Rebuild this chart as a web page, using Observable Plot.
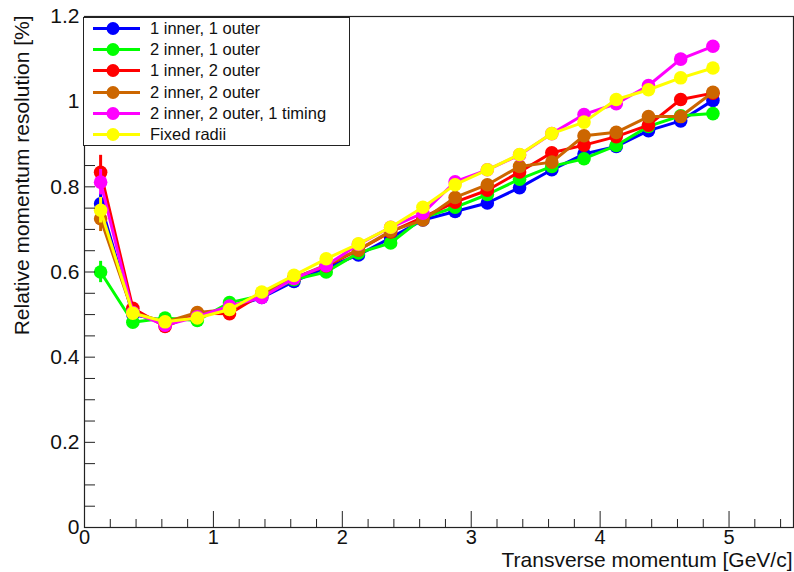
<!DOCTYPE html>
<html><head><meta charset="utf-8">
<script src="https://cdn.jsdelivr.net/npm/d3@7"></script>
<script src="https://cdn.jsdelivr.net/npm/@observablehq/plot@0.6"></script>
<style>
body{margin:0;background:#fff;}
#wrap{position:relative;width:794px;height:572px;font-family:"Liberation Sans",Arial,Helvetica,sans-serif;}
#legend{position:absolute;left:83px;top:17px;width:267px;height:129px;border:1px solid #222;background:#fff;box-sizing:border-box;}
.row{height:21.2px;display:flex;align-items:center;font-size:16.5px;color:#111;white-space:nowrap;}
.row svg{flex:none;margin-right:1px;}
</style></head><body><div id="wrap"><div id="legend"></div></div>
<script>
// ---- data ----
const pT = [0.125,0.375,0.625,0.875,1.125,1.375,1.625,1.875,2.125,2.375,2.625,2.875,3.125,3.375,3.625,3.875,4.125,4.375,4.625,4.875];

const names = ["1 inner, 1 outer","2 inner, 1 outer","1 inner, 2 outer","2 inner, 2 outer","2 inner, 2 outer, 1 timing","Fixed radii"];
const colors = ["#0000ff","#00ff00","#ff0000","#cc6600","#ff00ff","#ffff00"];

const res_1i1o = [0.760,0.500,0.485,0.495,0.515,0.540,0.578,0.610,0.640,0.680,0.722,0.742,0.762,0.798,0.840,0.877,0.895,0.932,0.955,1.003];
const res_2i1o = [0.600,0.482,0.492,0.486,0.528,0.545,0.582,0.600,0.645,0.668,0.727,0.752,0.782,0.818,0.848,0.866,0.897,0.942,0.967,0.972];
const res_1i2o = [0.834,0.515,0.472,0.503,0.502,0.548,0.586,0.614,0.652,0.694,0.728,0.764,0.792,0.835,0.880,0.898,0.918,0.945,1.005,1.020];
const res_2i2o = [0.725,0.505,0.482,0.505,0.512,0.550,0.585,0.617,0.652,0.696,0.722,0.775,0.805,0.848,0.858,0.920,0.928,0.965,0.965,1.022];
const res_2i2o1t = [0.811,0.505,0.475,0.495,0.520,0.540,0.585,0.615,0.665,0.705,0.738,0.812,0.840,0.875,0.925,0.970,0.995,1.038,1.100,1.130];
const res_fixed = [0.745,0.503,0.483,0.492,0.512,0.553,0.592,0.631,0.666,0.705,0.752,0.805,0.840,0.876,0.925,0.952,1.005,1.028,1.056,1.079];

const err_1i1o = [0.025,0.006,0.005,0.005,0.005,0.005,0.005,0.005,0.005,0.005,0.005,0.005,0.005,0.005,0.005,0.005,0.005,0.005,0.005,0.005];
const err_2i1o = [0.025,0.006,0.005,0.005,0.005,0.005,0.005,0.005,0.005,0.005,0.005,0.005,0.005,0.005,0.005,0.005,0.005,0.005,0.005,0.005];
const err_1i2o = [0.040,0.006,0.005,0.005,0.005,0.005,0.005,0.005,0.005,0.005,0.005,0.005,0.005,0.005,0.005,0.005,0.005,0.005,0.005,0.005];
const err_2i2o = [0.030,0.006,0.005,0.005,0.005,0.005,0.005,0.005,0.005,0.005,0.005,0.005,0.005,0.005,0.005,0.005,0.005,0.005,0.005,0.005];
const err_2i2o1t = [0.030,0.006,0.005,0.005,0.005,0.005,0.005,0.005,0.005,0.005,0.005,0.005,0.005,0.005,0.005,0.005,0.005,0.005,0.005,0.005];
const err_fixed = [0.030,0.006,0.005,0.005,0.005,0.005,0.005,0.005,0.005,0.005,0.005,0.005,0.005,0.005,0.005,0.005,0.005,0.005,0.005,0.005];

const xMajor = [0,1,2,3,4,5];
const xMinor = [0.2,0.4,0.6,0.8,1.2,1.4,1.6,1.8,2.2,2.4,2.6,2.8,3.2,3.4,3.6,3.8,4.2,4.4,4.6,4.8,5.2,5.4];
const yLabels = [0,0.2,0.4,0.6,0.8,1,1.2];
const yTicks = [0.05,0.1,0.15,0.2,0.25,0.3,0.35,0.4,0.45,0.5,0.55,0.6,0.65,0.7,0.75,0.8,0.85,0.9,0.95,1,1.05,1.1,1.15];

const xTitle = "Transverse momentum [GeV/c]";
const yTitle = "Relative momentum resolution [%]";

// ---- build ----
const values = [res_1i1o,res_2i1o,res_1i2o,res_2i2o,res_2i2o1t,res_fixed];
const errors = [err_1i1o,err_2i1o,err_1i2o,err_2i2o,err_2i2o1t,err_fixed];

const W = 794, H = 572, mL = 84, mR = 1, mT = 16, mB = 45;
const plotH = H - mT - mB, plotW = W - mL - mR;
const font = "Liberation Sans, Arial, Helvetica, sans-serif";
const ink = "#222";

const marks = [];
values.forEach((vals, k) => {
  const d = pT.map((x, i) => ({x, y: vals[i], lo: vals[i] - errors[k][i], hi: vals[i] + errors[k][i]}));
  marks.push(Plot.ruleX(d, {x: "x", y1: "lo", y2: "hi", stroke: colors[k], strokeWidth: 3}));
  marks.push(Plot.line(d, {x: "x", y: "y", stroke: colors[k], strokeWidth: 3}));
  marks.push(Plot.dot(d, {x: "x", y: "y", r: 6.8, fill: colors[k], stroke: "none"}));
});

const chart = Plot.plot({
  width: W, height: H,
  marginLeft: mL, marginRight: mR, marginTop: mT, marginBottom: mB,
  x: {domain: [0, 5.5]},
  y: {domain: [0, 1.2]},
  style: {fontFamily: font, background: "white", color: "#111"},
  marks: [
    ...marks,
    Plot.ruleX(xMajor, {x: d => d, insetTop: plotH - 16, stroke: ink}),
    Plot.ruleX(xMinor, {x: d => d, insetTop: plotH - 8, stroke: ink}),
    Plot.ruleY(yTicks, {y: d => d, insetRight: plotW - 11, stroke: ink}),
    Plot.frame({stroke: ink, strokeWidth: 1.2}),
    Plot.axisX({ticks: xMajor, tickSize: 0, tickPadding: 2, fontSize: 20, label: null, tickFormat: d => String(d)}),
    Plot.axisY({ticks: yLabels, tickSize: 0, tickPadding: 5, fontSize: 21, label: null, tickFormat: d => String(d)}),
    Plot.text([xTitle], {frameAnchor: "bottom-right", textAnchor: "end", lineAnchor: "middle", dx: -1, dy: 33, fontSize: 21, fill: "#111"}),
    Plot.text([yTitle], {frameAnchor: "top-left", rotate: -90, textAnchor: "end", lineAnchor: "middle", dx: -62, dy: -1, fontSize: 21, fill: "#111"})
  ]
});
document.getElementById("wrap").prepend(chart);

// legend
const leg = d3.select("#legend");
names.forEach((n, k) => {
  const row = leg.append("div").attr("class", "row");
  const s = row.append("svg").attr("width", 65).attr("height", 21);
  s.append("line").attr("x1", 9).attr("x2", 56).attr("y1", 10.5).attr("y2", 10.5).attr("stroke", colors[k]).attr("stroke-width", 3);
  s.append("circle").attr("cx", 29).attr("cy", 10.5).attr("r", 6.5).attr("fill", colors[k]);
  row.append("span").text(n);
});
</script>
</body></html>
